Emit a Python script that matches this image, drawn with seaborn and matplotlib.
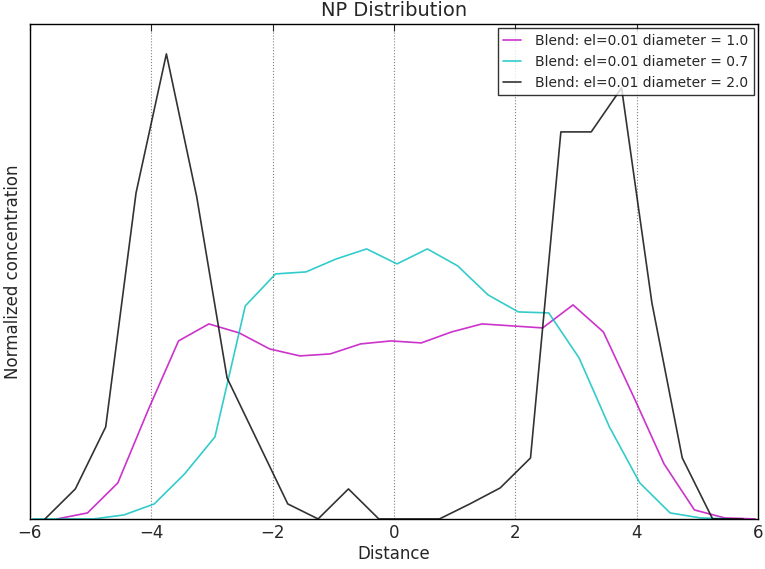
import numpy as np
import pandas as pd
import matplotlib
matplotlib.use("Agg")
import matplotlib.pyplot as plt
import seaborn as sns

# NP concentration profiles (normalized to axes height)
x_d10 = np.arange(-5.55, 6.0, 0.5)
conc_d10 = [0, 6, 36, 109, 178, 195, 186, 170, 163, 165, 175, 178,
            176, 187, 195, 193, 191, 214, 187, 122, 55, 9, 1, 0]

x_d07 = np.arange(-5.95, 5.6, 0.5)
conc_d07 = [0, 0, 0, 4, 15, 45, 82, 213, 245, 247, 260, 270,
            255, 270, 253, 224, 207, 206, 161, 92, 36, 6, 1, 0]

x_d20 = np.arange(-5.75, 5.8, 0.5)
conc_d20 = [0, 30, 92, 326, 465, 322, 141, 78, 15, 0, 30, 0,
            0, 0, 15, 31, 61, 387, 387, 431, 216, 61, 0, 0]

labels = ["Blend: el=0.01 diameter = 1.0",
          "Blend: el=0.01 diameter = 0.7",
          "Blend: el=0.01 diameter = 2.0"]
colors = ["m", "c", "k"]

sns.set_style("white")
plt.rcParams["font.family"] = ["DejaVu Sans"]

fig, ax = plt.subplots(figsize=(7.65, 5.69), dpi=100)
fig.subplots_adjust(left=0.039, right=0.991, top=0.958, bottom=0.088)

for xs, ys, lab, col in zip([x_d10, x_d07, x_d20], [conc_d10, conc_d07, conc_d20], labels, colors):
    df = pd.DataFrame({"Distance": xs, "conc": np.array(ys) / 495.0})
    sns.lineplot(data=df, x="Distance", y="conc", ax=ax, color=col, alpha=0.8,
                 linewidth=1.2, label=lab)

ax.set_xlim(-6, 6)
ax.set_ylim(0, 1)
ax.set_xticks(np.arange(-6, 7, 2))
ax.set_yticks([])
ax.tick_params(axis="x", direction="in", top=True, length=5, labelsize=12, pad=4)
ax.xaxis.grid(True, linestyle=":", color="0.5", linewidth=0.8)
for s in ax.spines.values():
    s.set_color("black")
    s.set_linewidth(1.0)

ax.set_title("NP Distribution", fontsize=14, pad=6)
ax.set_xlabel("Distance", fontsize=12, labelpad=2)
ax.set_ylabel("Normalized concentration", fontsize=12, labelpad=6)

leg = ax.legend(loc="upper right", fontsize=10, frameon=True, fancybox=False,
                borderaxespad=0.3, handlelength=1.3, handletextpad=1.0,
                labelspacing=0.5, borderpad=0.4)
leg.get_frame().set_edgecolor("black")
leg.get_frame().set_linewidth(1.0)

fig.savefig("out.png", dpi=100)
